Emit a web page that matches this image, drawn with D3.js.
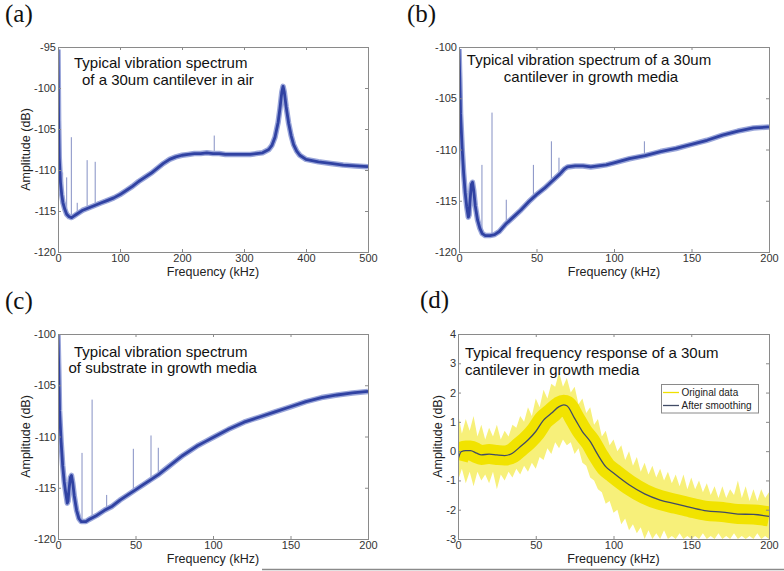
<!DOCTYPE html>
<html><head><meta charset="utf-8">
<script src="https://cdnjs.cloudflare.com/ajax/libs/d3/7.8.5/d3.min.js"></script>
<style>body{margin:0;background:#fff} svg{display:block}</style>
</head><body><svg id="c" width="784" height="571"></svg>
<script>
// ---------- DATA ----------
// Panel (a): cantilever in air, 0-500 kHz
const fA = [0,1,2,4,6,8,11,14,18,22,26,30,40,50,60,70,80,90,100,110,120,130,140,150,160,170,180,190,200,210,220,230,240,250,260,270,280,290,300,310,320,330,340,345,350,355,358,361,363,365,368,372,376,380,385,390,400,420,440,460,480,500];
const yA = [-95.3,-104,-108.5,-111.5,-113,-114,-114.8,-115.4,-115.7,-115.8,-115.6,-115.4,-114.9,-114.6,-114.3,-114.0,-113.7,-113.4,-113.0,-112.5,-112.0,-111.4,-110.9,-110.4,-109.8,-109.2,-108.7,-108.4,-108.2,-108.1,-108.0,-108.0,-107.9,-108.0,-108.0,-108.1,-108.1,-108.1,-108.1,-108.1,-108.0,-107.9,-107.5,-107.0,-106.0,-104.2,-102.5,-100.5,-99.8,-100.5,-102.3,-104.3,-105.8,-106.9,-107.7,-108.2,-108.7,-109.0,-109.2,-109.4,-109.5,-109.6];
const spikeFA = [7.5,14,21.5,31,47,60,65,252];
const spikeTopA = [-110.3,-110.9,-106.0,-114.0,-108.8,-109.0,-113.8,-105.8];

// Panel (b): cantilever in growth media, 0-200 kHz
const fB = [0,0.5,1,2,3,4,5,6,6.5,7,8,8.7,9.5,10.5,12,13.5,15,17,20,23,26,30,35,40,45,50,55,60,65,68,70,75,80,85,90,95,100,110,120,130,140,150,160,170,180,190,200];
const yB = [-100.2,-103,-106.5,-109.8,-112.3,-114.2,-115.6,-116.6,-116.4,-115.2,-113.4,-113.2,-114,-115.5,-116.9,-117.7,-118.2,-118.4,-118.4,-118.3,-118.0,-117.3,-116.6,-115.9,-115.1,-114.4,-113.8,-113.1,-112.4,-111.9,-111.7,-111.6,-111.6,-111.7,-111.6,-111.5,-111.3,-110.9,-110.6,-110.2,-109.9,-109.5,-109.1,-108.6,-108.2,-107.9,-107.8];
const spikeFB = [14.8,21.3,30.5,48,59.6,64.5,119.6];
const spikeTopB = [-111.5,-106.4,-114.9,-111.5,-109.2,-110.8,-109.2];

// Panel (c): substrate in growth media, 0-200 kHz
const fC = [0,0.5,1,2,3,4,5,6,6.5,7,8,8.7,9.5,10.5,12,13.5,15,18,20,25,30,35,40,45,50,55,60,65,70,75,80,85,90,95,100,110,120,130,140,150,160,170,180,190,200];
const yC = [-100.1,-103.5,-107.5,-110.5,-112.8,-114.4,-115.5,-116.5,-116.3,-115.3,-114.0,-113.8,-114.5,-115.8,-117.2,-118.0,-118.3,-118.3,-118.1,-117.7,-117.2,-116.8,-116.2,-115.7,-115.2,-114.7,-114.2,-113.7,-113.1,-112.5,-111.9,-111.4,-110.9,-110.5,-110.1,-109.3,-108.6,-108.1,-107.6,-107.1,-106.6,-106.2,-105.95,-105.75,-105.6];
const spikeFC = [15.5,22,31.4,48.6,60,64.7];
const spikeTopC = [-111.6,-106.4,-115.7,-111.2,-109.9,-111.1];

// Panel (d): frequency response, original data envelope + smoothed curve
const fD = [0,2.5,5,7.5,10,12.5,15,17.5,20,22.5,25,27.5,30,32.5,35,37.5,40,42.5,45,47.5,50,52.5,55,57.5,60,62.5,65,67.5,70,72.5,75,77.5,80,82.5,85,87.5,90,92.5,95,97.5,100,102.5,105,107.5,110,112.5,115,117.5,120,122.5,125,127.5,130,132.5,135,137.5,140,142.5,145,147.5,150,152.5,155,157.5,160,162.5,165,167.5,170,172.5,175,177.5,180,182.5,185,187.5,190,192.5,195,197.5,200];
const origUpper = [1.3,0.6,1.1,0.7,1.2,0.5,0.9,0.4,0.8,0.5, 0.9,0.4,0.7,0.5,0.9,0.8,1.2,1.0,1.5,1.2, 1.8,1.5,2.1,1.8,2.3,2.2,2.7,2.2,2.5,2.0, 2.2,1.6,1.8,1.3,1.5,0.9,1.1,0.5,0.7,0.2, 0.4,0.0,0.2,-0.3,0.0,-0.5,-0.2,-0.7,-0.4,-0.8, -0.5,-0.9,-0.6,-1.0,-0.7,-1.1,-0.8,-1.2,-0.8,-1.3, -0.9,-1.3,-1.0,-1.4,-1.1,-1.5,-1.2,-1.6,-1.2,-1.6, -1.3,-1.5,-1.0,-1.6,-1.2,-1.7,-1.3,-1.7,-1.3,-1.6, -1.4];
const origLower = [-1.0,-0.6,-1.1,-0.7,-1.2,-0.7,-1.0,-0.8,-1.1,-0.7, -1.3,-0.8,-1.0,-0.7,-0.9,-0.6,-0.8,-0.5,-0.7,-0.4, -0.6,-0.2,-0.3,0.1,-0.1,0.3,0.1,0.4,0.2,0.3, -0.1,0.1,-0.4,-0.5,-0.9,-1.0,-1.3,-1.4,-1.8,-1.7, -2.1,-2.0,-2.5,-2.3,-2.7,-2.5,-2.8,-2.6,-3.0,-2.7, -3.0,-2.8,-3.0,-2.7,-3.0,-2.9,-3.0,-2.8,-3.0,-2.9, -3.0,-2.9,-3.0,-2.8,-3.0,-2.9,-3.0,-2.8,-3.0,-2.9, -3.0,-2.8,-3.0,-2.9,-3.0,-2.9,-3.0,-2.8,-3.0,-2.9, -3.0];
const fS = [0,2,5,8,12,15,20,25,30,35,40,45,50,55,60,65,68,70,75,80,85,90,95,100,110,120,130,140,150,160,170,180,190,200];
const yS = [-0.3,-0.02,0.02,0.02,-0.07,-0.13,-0.1,-0.13,-0.15,-0.07,0.15,0.38,0.67,1.06,1.29,1.52,1.58,1.55,1.12,0.67,0.33,-0.13,-0.53,-0.75,-1.15,-1.46,-1.67,-1.8,-1.93,-2.04,-2.08,-2.15,-2.16,-2.23];

// Tick labels
const ticksX500 = [0,100,200,300,400,500];
const ticksX200 = [0,50,100,150,200];
const ticksYa = [-120,-115,-110,-105,-100,-95];
const ticksYbc = [-120,-115,-110,-105,-100];
const ticksYd = [-3,-2,-1,0,1,2,3,4];
const legendLabels = ["Original data","After smoothing"];

// ---------- DRAWING ----------
const SANS = '"Liberation Sans", Arial, Helvetica, sans-serif';
const SERIF = '"Liberation Serif", "Times New Roman", serif';
const svg = d3.select('#c');
const defs = svg.append('defs');

function interp(fs, ys, f) {
  const i = d3.bisectRight(fs, f);
  if (i <= 0) return ys[0];
  if (i >= fs.length) return ys[ys.length - 1];
  const t = (f - fs[i-1]) / (fs[i] - fs[i-1]);
  return ys[i-1] + t * (ys[i] - ys[i-1]);
}

function panel(p) {
  const x = d3.scaleLinear().domain(p.xd).range([p.l, p.r]);
  const y = d3.scaleLinear().domain(p.yd).range([p.b, p.t]);
  defs.append('clipPath').attr('id', 'clip' + p.id)
    .append('rect').attr('x', p.l).attr('y', p.t).attr('width', p.r - p.l).attr('height', p.b - p.t);
  const g = svg.append('g');
  const plot = g.append('g').attr('clip-path', `url(#clip${p.id})`);
  p.draw(plot, x, y);

  const styleAxis = sel => {
    sel.select('.domain').remove();
    sel.selectAll('.tick line').attr('stroke', '#8a8a8a');
    sel.selectAll('text').attr('font-family', SANS).attr('font-size', 11).attr('fill', '#333');
  };
  g.append('g').attr('transform', `translate(0,${p.b})`)
    .call(d3.axisBottom(x).tickValues(p.xt).tickSizeInner(-3).tickSizeOuter(0).tickPadding(2).tickFormat(d3.format('d')))
    .call(styleAxis);
  g.append('g').attr('transform', `translate(0,${p.t})`)
    .call(d3.axisTop(x).tickValues(p.xt).tickSizeInner(-3).tickSizeOuter(0).tickFormat(''))
    .call(styleAxis);
  g.append('g').attr('transform', `translate(${p.l},0)`)
    .call(d3.axisLeft(y).tickValues(p.yt).tickSizeInner(-3).tickSizeOuter(0).tickPadding(2).tickFormat(d => String(d)))
    .call(styleAxis);
  g.append('g').attr('transform', `translate(${p.r},0)`)
    .call(d3.axisRight(y).tickValues(p.yt).tickSizeInner(-3).tickSizeOuter(0).tickFormat(''))
    .call(styleAxis);

  g.append('rect').attr('x', p.l + 0.5).attr('y', p.t + 0.5).attr('width', p.r - p.l).attr('height', p.b - p.t)
    .attr('fill', 'none').attr('stroke', '#8a8a8a').attr('stroke-width', 1);

  // panel letter
  svg.append('text').attr('x', p.lx).attr('y', p.ly).attr('font-family', SERIF).attr('font-size', 25)
    .attr('fill', '#111').text(p.letter);
  // title lines
  p.titles.forEach(t => {
    svg.append('text').attr('x', t.x).attr('y', t.y).attr('text-anchor', t.anchor || 'start')
      .attr('font-family', SANS).attr('font-size', 15).attr('fill', '#111').text(t.s);
  });
  // axis labels
  svg.append('text').attr('x', (p.l + p.r) / 2).attr('y', p.b + 23.5).attr('text-anchor', 'middle')
    .attr('font-family', SANS).attr('font-size', 12.5).attr('fill', '#222').text('Frequency (kHz)');
  if (p.ylab != null) {
    svg.append('text').attr('transform', `translate(${p.ylab},${(p.t + p.b) / 2}) rotate(-90)`)
      .attr('text-anchor', 'middle').attr('font-family', SANS).attr('font-size', 12.5).attr('fill', '#222')
      .text('Amplitude (dB)');
  }
}

function spectrum(fs, ys, sf, st) {
  return (plot, x, y) => {
    // narrow-band spikes
    plot.selectAll('line.spike').data(sf.map((f, i) => [f, st[i]])).join('line')
      .attr('class', 'spike')
      .attr('x1', d => x(d[0])).attr('x2', d => x(d[0]))
      .attr('y1', d => y(d[1])).attr('y2', d => y(interp(fs, ys, d[0])))
      .attr('stroke', '#8590c4').attr('stroke-width', 1);
    const pts = fs.map((f, i) => [f, ys[i]]);
    const line = d3.line().x(d => x(d[0])).y(d => y(d[1]));
    plot.append('path').datum(pts).attr('d', line).attr('fill', 'none')
      .attr('stroke', '#9aa6da').attr('stroke-width', 5.5).attr('stroke-linejoin', 'round');
    plot.append('path').datum(pts).attr('d', line).attr('fill', 'none')
      .attr('stroke', '#3042a2').attr('stroke-width', 2.8).attr('stroke-linejoin', 'round');
  };
}

panel({id: 'a', l: 58, r: 368, t: 47, b: 252, xd: [0, 500], yd: [-120, -95], xt: ticksX500, yt: ticksYa,
  letter: '(a)', lx: 5, ly: 22, ylab: 30,
  titles: [{s: 'Typical vibration spectrum', x: 74, y: 68}, {s: 'of a 30um cantilever in air', x: 82, y: 84.5}],
  draw: spectrum(fA, yA, spikeFA, spikeTopA)});

panel({id: 'b', l: 459, r: 769, t: 47, b: 252, xd: [0, 200], yd: [-120, -100], xt: ticksX200, yt: ticksYbc,
  letter: '(b)', lx: 407, ly: 22, ylab: null,
  titles: [{s: 'Typical vibration spectrum of a 30um', x: 589, y: 65, anchor: 'middle'},
           {s: 'cantilever in growth media', x: 591, y: 81.5, anchor: 'middle'}],
  draw: spectrum(fB, yB, spikeFB, spikeTopB)});

panel({id: 'c', l: 58, r: 368, t: 334, b: 539, xd: [0, 200], yd: [-120, -100], xt: ticksX200, yt: ticksYbc,
  letter: '(c)', lx: 5, ly: 309, ylab: 30,
  titles: [{s: 'Typical vibration spectrum', x: 74, y: 356.5}, {s: 'of substrate in growth media', x: 68.5, y: 373}],
  draw: spectrum(fC, yC, spikeFC, spikeTopC)});

panel({id: 'd', l: 458, r: 769, t: 334, b: 539, xd: [0, 200], yd: [-3, 4], xt: ticksX200, yt: ticksYd,
  letter: '(d)', lx: 420, ly: 308, ylab: 442,
  titles: [{s: 'Typical frequency response of a 30um', x: 465, y: 357.5}, {s: 'cantilever in growth media', x: 465, y: 375}],
  draw: (plot, x, y) => {
    const env = fD.map((f, i) => [f, origLower[i], origUpper[i]]);
    plot.append('path').datum(env)
      .attr('d', d3.area().x(d => x(d[0])).y0(d => y(d[1])).y1(d => y(d[2])))
      .attr('fill', '#f7f07a');
    const sm = fS.map((f, i) => [f, yS[i]]);
    const sline = d3.line().x(d => x(d[0])).y(d => y(d[1])).curve(d3.curveMonotoneX);
    plot.append('path').datum(sm).attr('d', sline).attr('fill', 'none')
      .attr('stroke', '#f1e300').attr('stroke-width', 20).attr('stroke-linecap', 'butt');
    plot.append('path').datum(sm).attr('d', sline).attr('fill', 'none')
      .attr('stroke', '#414b66').attr('stroke-width', 1.3);
  }});

// legend for (d)
const lg = svg.append('g').attr('transform', 'translate(661,384)');
lg.append('rect').attr('x', 0.5).attr('y', 0.5).attr('width', 97).attr('height', 28.5)
  .attr('fill', '#fff').attr('stroke', '#8a8a8a');
const legendColors = ['#f0e000', '#414b66'];
legendLabels.forEach((s, i) => {
  lg.append('line').attr('x1', 2).attr('x2', 18).attr('y1', 8.5 + i * 13).attr('y2', 8.5 + i * 13)
    .attr('stroke', legendColors[i]).attr('stroke-width', 1.3);
  lg.append('text').attr('x', 20.5).attr('y', 12 + i * 13).attr('font-family', SANS).attr('font-size', 10)
    .attr('fill', '#222').text(s);
});

// thin separator line at the bottom of the figure
svg.append('line').attr('x1', 262).attr('x2', 784).attr('y1', 569.5).attr('y2', 569.5)
  .attr('stroke', '#8a8a8a').attr('stroke-width', 1.5);
</script>
</body></html>
